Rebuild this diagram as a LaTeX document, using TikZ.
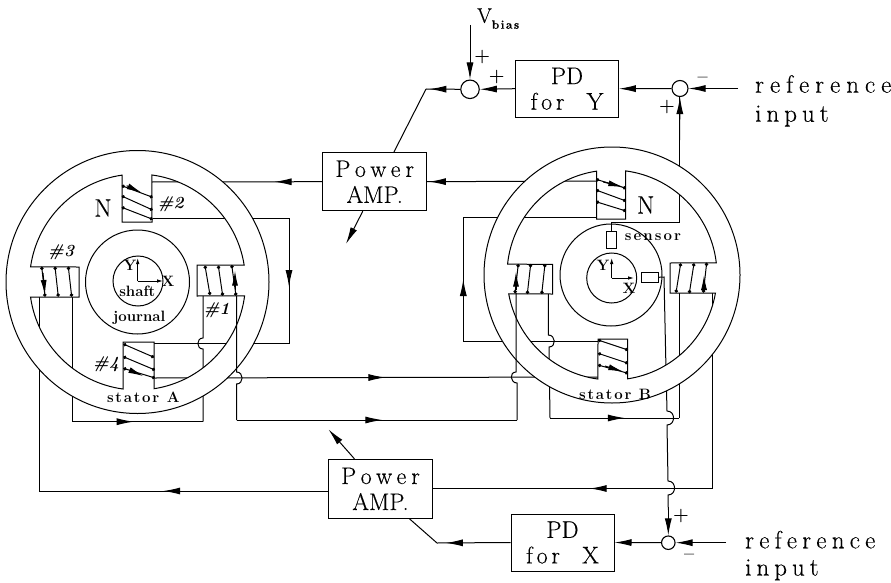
\documentclass[tikz,border=0pt]{standalone}
\usepackage{fontspec}
\setmainfont{Latin Modern Roman}
\usetikzlibrary{arrows.meta,calc,decorations.markings}
\newcommand{\spaced}[1]{\addfontfeature{LetterSpace=#1}}
\tikzset{
  wire/.style={line width=1pt},
  midtip/.style={wire,postaction={decorate,decoration={markings,mark=at position #1 with {\arrow{Latex[length=17pt,width=7pt]}}}}},
  feed/.style={wire,-{Latex[length=17pt,width=7pt]}},
  coiltip/.style={wire,-{Latex[length=15pt,width=6pt]}},
  coilturn/.style={wire,{Circle[length=3.4pt]}-{Circle[length=3.4pt]}},
  axis/.style={line width=0.9pt,-{Latex[length=6pt,width=3.5pt]}},
  stator/.style={line width=1pt,fill=white,even odd rule},
  blockbox/.style={draw,line width=1pt,fill=white,minimum width=#1,align=center,inner sep=0pt,font=\fontsize{24}{25.5}\selectfont\addfontfeature{FakeBold=0.3}},
  sumnode/.style={draw,circle,line width=1.1pt,minimum size=#1,inner sep=0pt},
  bigtext/.style={inner sep=0pt,font=\fontsize{25}{28}\selectfont\addfontfeature{FakeBold=0.3,LetterSpace=#1}},
  smalltext/.style={inner sep=0pt,font=\fontsize{15}{17}\selectfont\bfseries\addfontfeature{LetterSpace=#1}},
  coilnum/.style={inner sep=0pt,font=\fontsize{17}{20}\selectfont\itshape\bfseries},
  signtext/.style={inner sep=0pt,font=\fontsize{18}{20}\selectfont\bfseries},
  axislabel/.style={inner sep=0pt,font=\fontsize{15}{17}\selectfont\bfseries},
  sensorbox/.style={draw,line width=1pt,inner sep=0pt,minimum width=#1}
}
\begin{document}
\begin{tikzpicture}[x=1pt,y=-1pt]
\useasboundingbox (0,0) rectangle (891,583);
\coordinate (cA) at (137.5,282);
\coordinate (cB) at (612,275);
% blocks of the control loop
\node[blockbox=104pt,minimum height=58pt] (powerY) at (374.7,181.7) {{\spaced{21}Power}\\[0.5pt]AMP.};
\node[blockbox=104.4pt,minimum height=59pt] (powerX) at (380.5,488.8) {{\spaced{21}Power}\\[0.5pt]AMP.};
\node[blockbox=102.6pt,minimum height=57.3pt] (pdY) at (567,88.7) {PD\\{\spaced{16}for\ \ Y}};
\node[blockbox=103pt,minimum height=57pt] (pdX) at (562.5,542.5) {PD\\{\spaced{16}for\ \ X}};
\node[sumnode=18.5pt] (sumBias) at (470,89.3) {};
\node[sumnode=16pt] (sumY) at (680,88.5) {};
\node[sumnode=13.5pt] (sumX) at (668.3,542.7) {};
\node[sensorbox=10pt,minimum height=16.5pt] (sensorY) at (611.7,240) {};
\node[sensorbox=16.5pt,minimum height=10pt] (sensorX) at (650,277.3) {};
% ends of the stator windings
\path (152,182) coordinate (a2top) (152.7,218) coordinate (a2low) (154,343.5) coordinate (a4top) (155,378) coordinate (a4low)
  (203,296) coordinate (a1left) (236.5,296) coordinate (a1right) (72.3,297) coordinate (a3right) (39,297) coordinate (a3left);
\path (597,181) coordinate (b2top) (597,217) coordinate (b2low) (598,341) coordinate (b4top) (598,377) coordinate (b4low)
  (516,293) coordinate (b3left) (548.3,294) coordinate (b3right) (679,293) coordinate (b1left) (712.7,293) coordinate (b1right);
% bends of the wires
\path (289,218) coordinate (loopAtop) (289,343.5) coordinate (loopAlow) (463.3,217) coordinate (loopBtop) (463.3,341) coordinate (loopBlow)
  (203,421.7) coordinate (rowAright) (72.3,421.7) coordinate (rowAleft) (236.5,420) coordinate (rowMidleft) (517,420) coordinate (rowMidright)
  (550,418) coordinate (rowBleft) (679,418) coordinate (rowBright) (39,491) coordinate (rowXleft) (712.7,488.5) coordinate (rowXright)
  (679.5,222.7) coordinate (senseY) (664,277) coordinate (senseX) (426,89) coordinate (bendY) (437,543) coordinate (bendX)
  (470,25) coordinate (biasIn) (738,88.5) coordinate (refY) (726,542.7) coordinate (refX) (346,244) coordinate (ampYout) (328.4,429.3) coordinate (ampXout);
% wires that run behind the stator rings
\draw[midtip=0.28] (powerY.west) -- (a2top);
\draw[midtip=0.99] (b2top) -- (powerY.east);
\draw[wire] (a2low) -- (loopAtop);
\draw[midtip=0.55] (loopAtop) -- (loopAlow);
\draw[wire] (loopAlow) -- (a4top);
\draw[midtip=0.52] (a4low) -- (b4low);
\draw[wire] (a1left) -- (203,338) to[out=180,in=180,looseness=1.6] (203,349) -- (rowAright);
\draw[midtip=0.47] (rowAleft) -- (rowAright);
\draw[wire] (rowAleft) -- (a3right);
\draw[wire] (a3left) -- (rowXleft);
\draw[midtip=0.57] (powerX.west |- rowXleft) -- (rowXleft);
\draw[wire] (b2low) -- (loopBtop);
\draw[midtip=0.5] (loopBlow) -- (loopBtop);
\draw[wire] (loopBlow) -- (b4top);
\draw[wire] (b3right) -- (548.3,335) to[out=0,in=0,looseness=1.6] (549,347) -- (rowBleft);
\draw[midtip=0.58] (rowBleft) -- (rowBright);
\draw[wire] (rowBright) -- (b1left);
\draw[wire] (b1right) -- (rowXright);
\draw[midtip=0.44] (rowXright) -- (powerX.east |- rowXright);
\draw[wire] (sensorY.north) |- (senseY);
\draw[wire] (senseY) -- (senseY |- sumY.south);
\draw[feed] (senseY |- 0,140) -- (sumY.south);
\draw[wire] (sensorX.east) -- (senseX) -- (666,370) -- (667,411) to[out=0,in=0,looseness=1.6] (667,425) -- (668,481) to[out=0,in=0,looseness=1.6] (668,495) -- (668.3,510);
\draw[feed] (668.3,510) -- (sumX.north);
% stator A
\draw[stator] (cA) circle[radius=131.5]
  ($(cA)+(277.7:108)$) arc[start angle=277.7,end angle=351,radius=108] -- (197,265) -- (197,296)
  -- ($(cA)+(7.4:108)$) arc[start angle=7.4,end angle=81.2,radius=108] -- (154,342) -- (123,342)
  -- ($(cA)+(97.7:108)$) arc[start angle=97.7,end angle=172,radius=108] -- (79,297) -- (79,267)
  -- ($(cA)+(188:108)$) arc[start angle=188,end angle=261.8,radius=108] -- (122,222) -- (152,222) -- cycle;
\draw[wire] (cA) circle[radius=52];
\draw[wire] (138,281) circle[radius=25];
% stator B
\draw[stator] (cB) circle[radius=128]
  ($(cB)+(277.5:105)$) arc[start angle=277.5,end angle=353.4,radius=105] -- (670,263) -- (670,293)
  -- ($(cB)+(9.9:105)$) arc[start angle=9.9,end angle=81.4,radius=105] -- (627.7,339) -- (598,339)
  -- ($(cB)+(97.7:105)$) arc[start angle=97.7,end angle=169.6,radius=105] -- (552.7,294) -- (552.7,264.3)
  -- ($(cB)+(185.9:105)$) arc[start angle=185.9,end angle=261.6,radius=105] -- (596.7,219) -- (625.7,219) -- cycle;
\draw[wire] (611,275) circle[radius=51];
\draw[wire] (611.7,278) circle[radius=25];
% wires that stay visible over the rings
\draw[wire] (a1right) -- (236.5,372) to[out=0,in=0,looseness=1.6] (236.5,384) -- (rowMidleft);
\draw[midtip=0.52] (rowMidleft) -- (rowMidright);
\draw[wire] (rowMidright) -- (517,383) to[out=180,in=180,looseness=1.6] (516,372) -- (b3left);
% windings
\foreach \xa/\ya/\xb/\yb in {121.7/185.7/152.7/197.3,121.7/196/152.7/210,121.7/207.3/152.7/219.3,
  123.3/344/154/357.3,123.3/356.7/155/370,123.3/368.3/155/378,
  205/265.7/210/295,218.3/265.7/222.7/295.7,231.7/265/236/295.7,
  41.7/266.7/45/296.7,55/266.7/58.3/296.7,68.3/266.7/71.7/296.7,
  596/179.3/626/188.3,596/190/626/201,596/201.7/626/211,
  598/340/628/350,598/353.3/628/363.3,598/365/628/373.3,
  680.7/263.3/676/292.7,694/263.3/689.3/293.3,706.7/262.7/703.3/292.7,
  518.3/264/515/293.3,530.7/264/527.3/294,545/264/541.7/294}
  {\draw[coilturn] (\xa,\ya) -- (\xb,\yb);}
\foreach \xa/\ya/\xb/\yb in {126.7/185.7/141.7/192.7,129.3/370/143.3/376,43/273/45/295,235/290/235/270.7,
  603.3/182/623.3/187,605/366/623.3/371.7,516/290/516/271.7,704/291.7/704/275}
  {\draw[coiltip] (\xa,\ya) -- (\xb,\yb);}
% shaft axes
\draw[axis] (137.7,281) -- (137.7,258);
\draw[axis] (137.7,281) -- (163,281);
\draw[axis] (611.7,278) -- (611.7,258);
\draw[axis] (611.7,278) -- (634,278);
% control loop wires
\draw[feed] (biasIn) -- (sumBias.north);
\draw[feed] (pdY.west) -- (sumBias.east);
\draw[midtip=0.9] (sumBias.west) -- (bendY);
\draw[wire] (bendY) -- (powerY.57);
\draw[feed] (powerY.248) -- (ampYout);
\draw[feed] (sumY.west) -- (pdY.east);
\draw[feed] (refY) -- (sumY.east);
\draw[feed] (sumX.west) -- (pdX.east);
\draw[feed] (refX) -- (sumX.east);
\draw[midtip=0.88] (pdX.west) -- (bendX);
\draw[wire] (bendX) -- (powerX.314);
\draw[feed] (powerX.131) -- (ampXout);
% labels
\node[inner sep=0pt,anchor=base west,font=\fontsize{21}{24}\selectfont\addfontfeature{FakeBold=0.3}] (vLabel) at (477,22.7)
  {V\raisebox{-6pt}{\fontsize{12}{12}\selectfont\bfseries\spaced{12}bias}};
\node[signtext] (signBias) at (482.3,57.3) {+};
\node[signtext] (signPdY) at (496.7,77.3) {+};
\node[signtext] (signRefY) at (702.8,80) {--};
\node[signtext] (signFbY) at (667,107) {+};
\node[signtext] (signFbX) at (681,516) {+};
\node[signtext] (signRefX) at (689.3,557.3) {--};
\node[bigtext=24,anchor=base west] (refYtext) at (755,92.7) {reference};
\node[bigtext=20,anchor=base west] (inYtext) at (755,121.7) {input};
\node[bigtext=21,anchor=base west] (refXtext) at (745,548.3) {reference};
\node[bigtext=20,anchor=base west] (inXtext) at (745,575.5) {input};
\node[bigtext=0] (nA) at (103,208) {N};
\node[bigtext=0] (nB) at (645.7,205) {N};
\node[coilnum] (num2) at (170.7,204) {\#2};
\node[coilnum] (num3) at (61,252) {\#3};
\node[coilnum] (num1) at (216.7,310) {\#1};
\node[coilnum] (num4) at (106,364) {\#4};
\node[smalltext=0] (shaftText) at (137.3,291.7) {shaft};
\node[smalltext=0] (journalText) at (139.3,318) {journal};
\node[smalltext=12] (statorA) at (143.3,397) {stator A};
\node[smalltext=12] (statorB) at (615,394) {stator B};
\node[smalltext=14] (sensorText) at (653,237) {sensor};
\node[axislabel] (yA) at (130,265) {Y};
\node[axislabel] (xA) at (168,281) {X};
\node[axislabel] (yB) at (603,265) {Y};
\node[axislabel] (xB) at (629,288) {X};
\end{tikzpicture}
\end{document}
